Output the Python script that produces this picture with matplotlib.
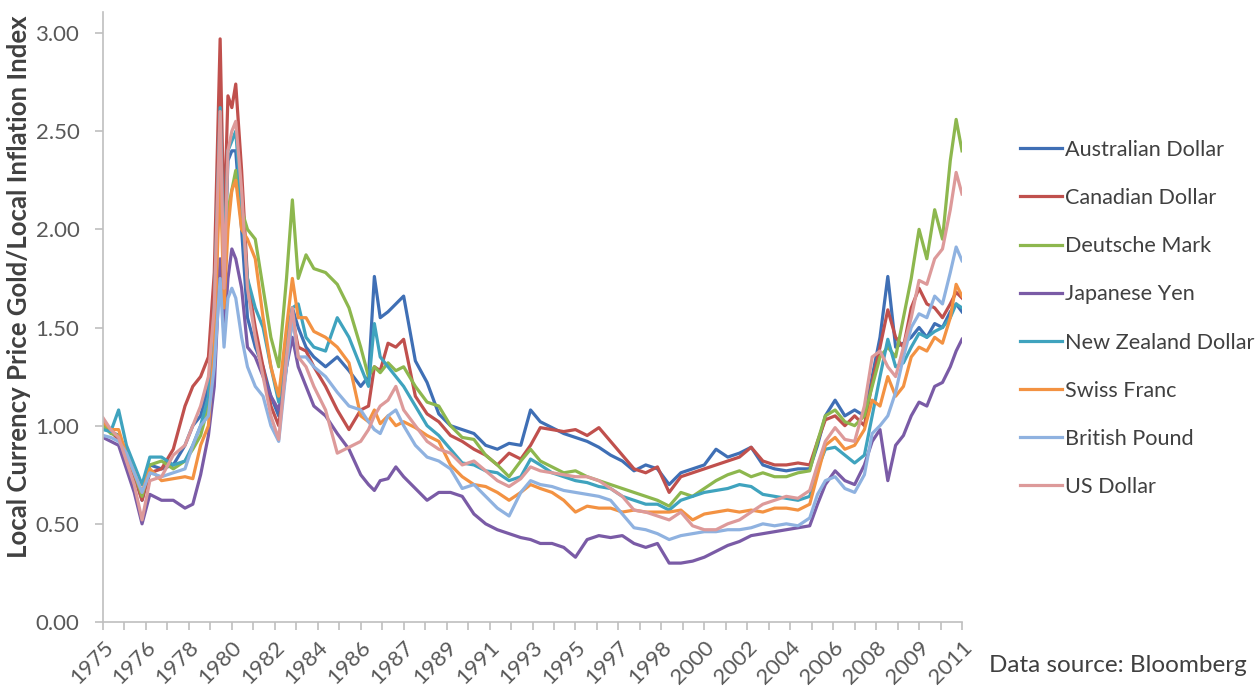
import matplotlib
matplotlib.use("Agg")
import matplotlib.pyplot as plt

plt.rcParams["font.family"] = ["Lato", "DejaVu Sans"]

# month index counted from Jan 1975 (monthly series, sampled)
months = [0, 4, 8, 12, 16, 20, 24, 30, 36, 42, 46, 50, 54, 57, 60, 62, 64, 66, 68, 71,
          74, 78, 82, 86, 90, 94, 97, 100, 104, 108, 114, 120, 126, 132, 136, 139, 142, 146, 150, 154,
          160, 166, 172, 178, 184, 190, 196, 202, 208, 214, 219, 224, 230, 236, 242, 248, 254, 260, 266, 272,
          278, 284, 290, 296, 302, 308, 314, 320, 326, 332, 338, 344, 350, 356, 362, 366, 370, 375, 380, 385,
          390, 394, 398, 402, 406, 410, 414, 418, 422, 426, 430, 434, 437, 440]

aud = [1.00, 0.97, 0.95, 0.86, 0.76, 0.62, 0.80, 0.78, 0.80, 0.90, 1.00, 1.05, 1.20, 1.50, 2.55, 1.75, 2.35, 2.40, 2.40, 2.00,
       1.55, 1.40, 1.30, 1.15, 1.05, 1.35, 1.60, 1.50, 1.40, 1.35, 1.30, 1.35, 1.28, 1.20, 1.25, 1.76, 1.55, 1.58, 1.62, 1.66,
       1.33, 1.22, 1.06, 1.00, 0.98, 0.96, 0.90, 0.88, 0.91, 0.90, 1.08, 1.02, 0.99, 0.96, 0.94, 0.92, 0.89, 0.85, 0.82, 0.77,
       0.80, 0.78, 0.70, 0.76, 0.78, 0.80, 0.88, 0.84, 0.86, 0.89, 0.80, 0.78, 0.77, 0.78, 0.78, 0.90, 1.05, 1.13, 1.05, 1.08,
       1.05, 1.25, 1.45, 1.76, 1.40, 1.42, 1.45, 1.50, 1.45, 1.52, 1.50, 1.58, 1.62, 1.58]
cad = [1.02, 0.97, 0.93, 0.85, 0.74, 0.62, 0.76, 0.78, 0.88, 1.10, 1.20, 1.25, 1.35, 1.78, 2.97, 2.00, 2.68, 2.62, 2.74, 2.30,
       1.75, 1.50, 1.30, 1.10, 1.00, 1.30, 1.55, 1.40, 1.38, 1.30, 1.20, 1.08, 0.98, 1.08, 1.10, 1.30, 1.28, 1.42, 1.40, 1.44,
       1.15, 1.06, 1.02, 0.95, 0.92, 0.88, 0.85, 0.80, 0.86, 0.83, 0.90, 0.99, 0.98, 0.97, 0.98, 0.95, 0.99, 0.92, 0.85, 0.78,
       0.76, 0.79, 0.66, 0.74, 0.76, 0.78, 0.80, 0.82, 0.84, 0.89, 0.82, 0.80, 0.80, 0.81, 0.80, 0.92, 1.03, 1.05, 1.00, 1.05,
       1.00, 1.22, 1.40, 1.59, 1.45, 1.40, 1.60, 1.70, 1.62, 1.60, 1.55, 1.62, 1.68, 1.65]
dem = [1.00, 0.96, 0.95, 0.87, 0.76, 0.64, 0.80, 0.82, 0.78, 0.82, 0.88, 0.95, 1.10, 1.45, 2.45, 1.70, 2.10, 2.20, 2.30, 2.10,
       2.00, 1.95, 1.70, 1.45, 1.30, 1.75, 2.15, 1.75, 1.87, 1.80, 1.78, 1.72, 1.60, 1.40, 1.25, 1.30, 1.27, 1.32, 1.28, 1.30,
       1.20, 1.12, 1.10, 1.00, 0.94, 0.93, 0.85, 0.80, 0.74, 0.82, 0.88, 0.82, 0.79, 0.76, 0.77, 0.74, 0.72, 0.70, 0.68, 0.66,
       0.64, 0.62, 0.59, 0.66, 0.64, 0.68, 0.72, 0.75, 0.77, 0.74, 0.76, 0.74, 0.74, 0.76, 0.77, 0.92, 1.05, 1.08, 1.02, 1.00,
       1.05, 1.20, 1.35, 1.40, 1.35, 1.55, 1.75, 2.00, 1.85, 2.10, 1.95, 2.35, 2.56, 2.40]
jpy = [0.94, 0.92, 0.90, 0.78, 0.66, 0.50, 0.65, 0.62, 0.62, 0.58, 0.60, 0.75, 0.95, 1.20, 1.85, 1.45, 1.75, 1.90, 1.85, 1.70,
       1.40, 1.35, 1.25, 1.15, 1.08, 1.30, 1.45, 1.30, 1.20, 1.10, 1.05, 0.96, 0.88, 0.75, 0.70, 0.67, 0.72, 0.73, 0.79, 0.74,
       0.68, 0.62, 0.66, 0.66, 0.64, 0.55, 0.50, 0.47, 0.45, 0.43, 0.42, 0.40, 0.40, 0.38, 0.33, 0.42, 0.44, 0.43, 0.44, 0.40,
       0.38, 0.40, 0.30, 0.30, 0.31, 0.33, 0.36, 0.39, 0.41, 0.44, 0.45, 0.46, 0.47, 0.48, 0.49, 0.60, 0.70, 0.77, 0.72, 0.70,
       0.80, 0.92, 0.98, 0.72, 0.90, 0.95, 1.05, 1.12, 1.10, 1.20, 1.22, 1.30, 1.38, 1.44]
nzd = [0.98, 0.97, 1.08, 0.90, 0.80, 0.70, 0.84, 0.84, 0.80, 0.82, 0.90, 1.00, 1.15, 1.60, 2.62, 1.80, 2.40, 2.45, 2.50, 2.10,
       1.75, 1.60, 1.50, 1.30, 1.12, 1.45, 1.60, 1.62, 1.45, 1.40, 1.38, 1.55, 1.45, 1.30, 1.20, 1.52, 1.35, 1.30, 1.25, 1.20,
       1.10, 1.00, 0.95, 0.88, 0.81, 0.80, 0.77, 0.76, 0.72, 0.74, 0.83, 0.80, 0.76, 0.74, 0.72, 0.71, 0.69, 0.68, 0.64, 0.62,
       0.60, 0.60, 0.57, 0.62, 0.64, 0.66, 0.67, 0.68, 0.70, 0.69, 0.65, 0.64, 0.63, 0.62, 0.64, 0.78, 0.88, 0.89, 0.85, 0.81,
       0.85, 1.05, 1.25, 1.44, 1.30, 1.32, 1.40, 1.47, 1.45, 1.48, 1.50, 1.55, 1.62, 1.60]
chf = [1.02, 0.98, 0.98, 0.85, 0.76, 0.66, 0.78, 0.72, 0.73, 0.74, 0.73, 0.90, 1.00, 1.40, 2.30, 1.60, 2.00, 2.20, 2.25, 2.00,
       1.95, 1.85, 1.55, 1.30, 1.15, 1.50, 1.75, 1.55, 1.55, 1.48, 1.45, 1.40, 1.32, 1.05, 1.02, 1.08, 1.01, 1.05, 1.00, 1.02,
       0.99, 0.95, 0.92, 0.80, 0.74, 0.70, 0.69, 0.66, 0.62, 0.66, 0.70, 0.68, 0.66, 0.62, 0.56, 0.59, 0.58, 0.58, 0.56, 0.57,
       0.56, 0.56, 0.56, 0.57, 0.52, 0.55, 0.56, 0.57, 0.56, 0.57, 0.56, 0.58, 0.58, 0.57, 0.60, 0.75, 0.90, 0.94, 0.88, 0.90,
       0.98, 1.13, 1.10, 1.25, 1.15, 1.20, 1.35, 1.40, 1.38, 1.45, 1.42, 1.55, 1.72, 1.66]
gbp = [0.95, 0.94, 0.92, 0.86, 0.76, 0.66, 0.76, 0.74, 0.76, 0.78, 0.90, 1.00, 1.05, 1.30, 1.75, 1.40, 1.65, 1.70, 1.65, 1.45,
       1.30, 1.20, 1.15, 1.00, 0.92, 1.30, 1.55, 1.35, 1.35, 1.30, 1.25, 1.17, 1.10, 1.08, 1.02, 0.98, 0.96, 1.05, 1.08, 1.00,
       0.90, 0.84, 0.82, 0.78, 0.68, 0.70, 0.64, 0.58, 0.54, 0.66, 0.72, 0.70, 0.69, 0.67, 0.66, 0.65, 0.64, 0.62, 0.55, 0.48,
       0.47, 0.45, 0.42, 0.44, 0.45, 0.46, 0.46, 0.47, 0.47, 0.48, 0.50, 0.49, 0.50, 0.49, 0.53, 0.65, 0.72, 0.74, 0.68, 0.66,
       0.75, 0.96, 1.00, 1.05, 1.17, 1.35, 1.50, 1.57, 1.55, 1.66, 1.62, 1.78, 1.91, 1.84]
usd = [1.04, 0.98, 0.94, 0.82, 0.70, 0.52, 0.72, 0.74, 0.85, 0.90, 1.00, 1.10, 1.25, 1.60, 2.60, 1.70, 2.40, 2.50, 2.55, 2.20,
       1.70, 1.45, 1.25, 1.05, 0.93, 1.35, 1.60, 1.35, 1.30, 1.20, 1.08, 0.86, 0.89, 0.92, 0.98, 1.05, 1.10, 1.13, 1.20, 1.08,
       1.00, 0.92, 0.88, 0.86, 0.80, 0.82, 0.77, 0.72, 0.69, 0.73, 0.79, 0.77, 0.76, 0.75, 0.74, 0.74, 0.72, 0.68, 0.64, 0.57,
       0.56, 0.54, 0.52, 0.56, 0.49, 0.47, 0.47, 0.50, 0.52, 0.56, 0.60, 0.62, 0.64, 0.63, 0.67, 0.80, 0.92, 0.99, 0.93, 0.92,
       1.10, 1.35, 1.38, 1.30, 1.25, 1.40, 1.55, 1.74, 1.72, 1.85, 1.90, 2.10, 2.29, 2.18]

series_names = ["Australian Dollar", "Canadian Dollar", "Deutsche Mark", "Japanese Yen",
                "New Zealand Dollar", "Swiss Franc", "British Pound", "US Dollar"]
series_values = [aud, cad, dem, jpy, nzd, chf, gbp, usd]
colors = ["#3F6FB5", "#C0504D", "#8DB74E", "#7A5BA6", "#3FA3BE", "#F39242", "#8FB2E0", "#DD9A9A"]

year_labels = ["1975", "1976", "1978", "1980", "1982", "1984", "1986", "1987", "1989", "1991", "1993",
               "1995", "1997", "1998", "2000", "2002", "2004", "2006", "2008", "2009", "2011"]

W, H = 1259, 698
fig = plt.figure(figsize=(W / 100, H / 100), dpi=100)
ax = fig.add_axes([103 / W, 1 - 622 / H, (962 - 103) / W, (622 - 12) / H])

for name, vals, c in zip(series_names, series_values, colors):
    ax.plot(months, vals, color=c, lw=2.3, label=name, solid_joinstyle="round")

ax.set_xlim(0, 440)
ax.set_ylim(0, (622 - 12) / 196.33)
ax.set_yticks([0, 0.5, 1.0, 1.5, 2.0, 2.5, 3.0])
ax.set_yticklabels(["0.00", "0.50", "1.00", "1.50", "2.00", "2.50", "3.00"])
ax.set_xticks(range(0, 441, 22))
ax.set_xticklabels(year_labels, rotation=45, ha="right", rotation_mode="anchor")
ax.set_xticks(range(11, 441, 22), minor=True)

axis_gray = "#BFBFBF"
for side in ["top", "right"]:
    ax.spines[side].set_visible(False)
for side in ["left", "bottom"]:
    ax.spines[side].set_color(axis_gray)
    ax.spines[side].set_linewidth(1.2)
ax.tick_params(axis="both", which="both", color=axis_gray, width=1.2, length=6,
               labelcolor="#595959", labelsize=16)
ax.tick_params(axis="y", pad=11)
ax.tick_params(axis="x", pad=5)

# axis title, placed in figure pixels
fig.text(19 / W, 1 - 287 / H, "Local Currency Price Gold/Local Inflation Index",
         rotation=90, ha="center", va="center", fontsize=18.5, fontweight="bold",
         color="#404040")

leg = ax.legend(loc="upper left", bbox_to_anchor=(1009 / W, 1 - 129 / H),
                bbox_transform=fig.transFigure, frameon=False, fontsize=15.6,
                handlelength=1.95, handletextpad=0.12, labelspacing=1.3, borderpad=0)
for t in leg.get_texts():
    t.set_color("#404040")

fig.text(989 / W, 1 - 665 / H, "Data source: Bloomberg", fontsize=17.5,
         color="#404040", va="center", ha="left")

fig.savefig("out.png", dpi=100)
